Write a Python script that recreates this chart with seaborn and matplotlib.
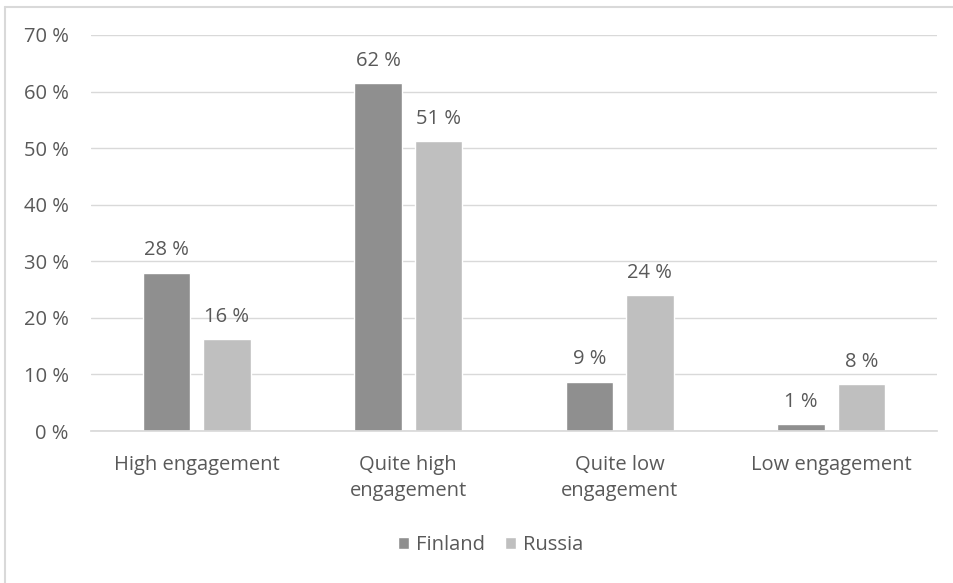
import pandas as pd
import numpy as np
import matplotlib.pyplot as plt
import seaborn as sns
from matplotlib.lines import Line2D

# Data
categories = ["High engagement", "Quite high\nengagement", "Quite low\nengagement", "Low engagement"]
finland = [28.0, 61.5, 8.7, 1.2]
russia = [16.2, 51.2, 24.0, 8.3]
finland_labels = ["28 %", "62 %", "9 %", "1 %"]
russia_labels = ["16 %", "51 %", "24 %", "8 %"]

df = pd.DataFrame({
    "category": categories * 2,
    "value": finland + russia,
    "country": ["Finland"] * 4 + ["Russia"] * 4,
})

sns.set_theme(style="white")
plt.rcParams['font.family'] = ['Open Sans', 'DejaVu Sans']
text_color = "#595959"
fs = 14.5

fig = plt.figure(figsize=(9.54, 5.83), dpi=100)
ax = fig.add_axes([0.0954, 0.2607, 0.8866, 0.6793])

sns.barplot(data=df, x="category", y="value", hue="country",
            palette=["#8f8f8f", "#bfbfbf"], width=0.572, gap=0.215,
            saturation=1, ax=ax, legend=True)

ax.set_ylim(0, 70)
ax.set_xlim(-0.5, 3.5)
ax.set_yticks(np.arange(0, 71, 10))
ax.set_yticklabels([f"{v} %" for v in range(0, 71, 10)], color=text_color, fontsize=fs)
ax.tick_params(axis="x", colors=text_color, labelsize=fs, length=0, pad=17)
ax.tick_params(axis="y", length=0, pad=16)
for t in ax.get_xticklabels():
    t.set_linespacing(1.45)
ax.yaxis.grid(True, color="#d9d9d9", linewidth=1)
ax.set_axisbelow(True)
ax.set_xlabel("")
ax.set_ylabel("")
for s in ["left", "right", "top"]:
    ax.spines[s].set_visible(False)
ax.spines["bottom"].set_color("#d9d9d9")

for cont, labels in zip(ax.containers, [finland_labels, russia_labels]):
    ax.bar_label(cont, labels=labels, padding=9, color=text_color, fontsize=fs)

handles, lbls = ax.get_legend_handles_labels()
ax.legend(handles, lbls, loc="center", bbox_to_anchor=(0.514, 1 - (545 / 583)),
          bbox_transform=fig.transFigure, ncol=2, frameon=False,
          handlelength=0.55, handleheight=0.55, handletextpad=0.35, columnspacing=1.0,
          labelcolor=text_color, fontsize=fs)

# outer chart frame (only top and left edges are visible)
fig.add_artist(Line2D([5 / 954, 1], [1 - 7 / 583, 1 - 7 / 583], transform=fig.transFigure,
                      color="#d9d9d9", linewidth=1.5))
fig.add_artist(Line2D([5 / 954, 5 / 954], [0, 1 - 7 / 583], transform=fig.transFigure,
                      color="#d9d9d9", linewidth=1.5))

fig.savefig("out.png", dpi=100)
